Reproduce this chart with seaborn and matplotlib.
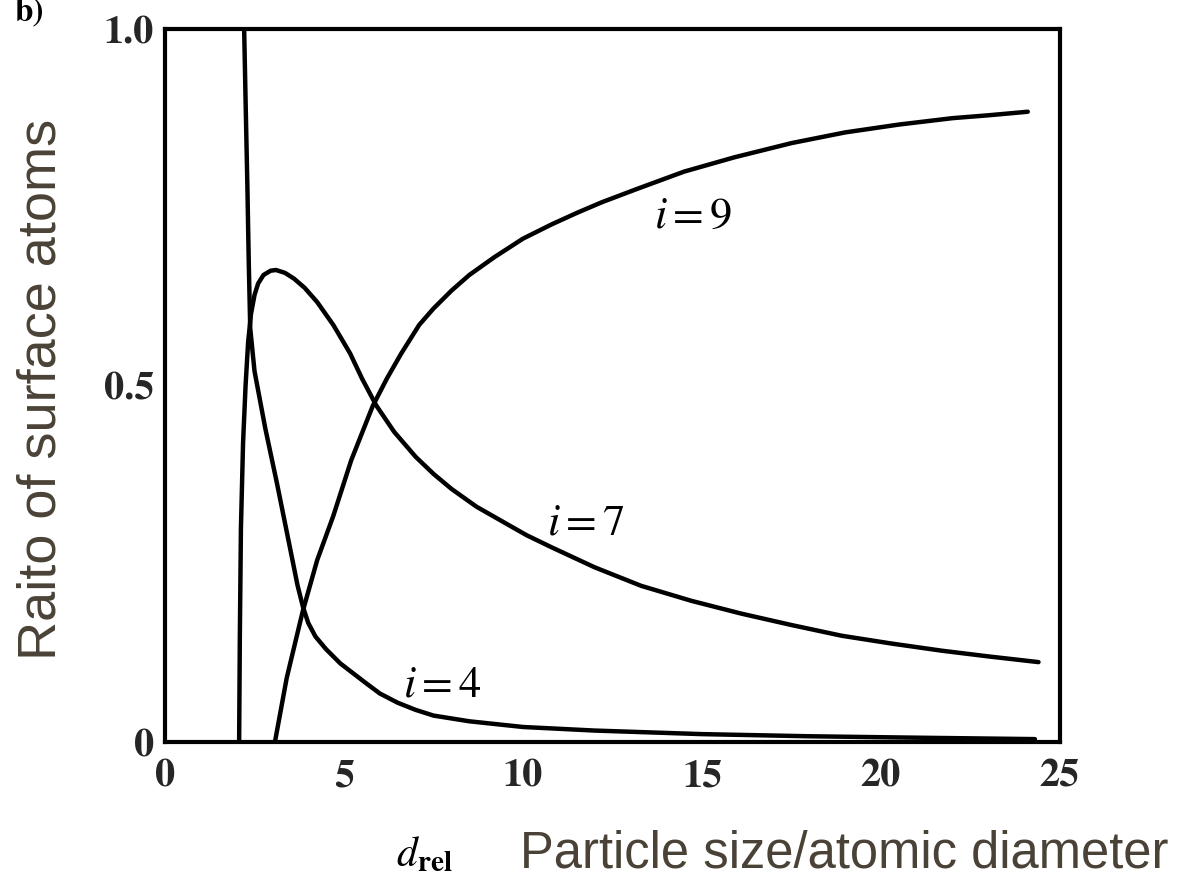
import matplotlib
matplotlib.use("Agg")
import matplotlib.pyplot as plt
import seaborn as sns
import pandas as pd

# Data
d_i4 = [2.21, 2.25, 2.30, 2.34, 2.38, 2.5, 2.8, 3.13, 3.5, 3.7, 3.85, 4.0, 4.2, 4.5, 4.9,
        5.6, 6.0, 6.5, 7.0, 7.5, 8.5, 10.0, 12.0, 15.0, 18.0, 21.0, 24.3]
y_i4 = [1.0, 0.90, 0.78, 0.67, 0.58, 0.52, 0.44, 0.362, 0.27, 0.22, 0.19, 0.167, 0.148, 0.13, 0.11,
        0.083, 0.068, 0.055, 0.045, 0.037, 0.029, 0.021, 0.016, 0.011, 0.008, 0.006, 0.004]

d_i7 = [2.07, 2.09, 2.12, 2.18, 2.25, 2.32, 2.40, 2.5, 2.6, 2.75, 2.95, 3.1, 3.35, 3.6, 3.9,
        4.25, 4.7, 5.17, 5.5, 5.9, 6.4, 7.0, 7.5, 8.0, 8.7, 9.4, 10.1, 10.8, 12.0, 13.3,
        14.7, 16.1, 17.5, 18.9, 20.3, 21.7, 23.0, 24.4]
y_i7 = [0.0, 0.15, 0.30, 0.42, 0.50, 0.56, 0.60, 0.627, 0.643, 0.655, 0.661, 0.662, 0.658, 0.650, 0.637,
        0.617, 0.585, 0.545, 0.51, 0.472, 0.435, 0.400, 0.376, 0.355, 0.330, 0.31, 0.29, 0.273, 0.245, 0.219,
        0.198, 0.180, 0.164, 0.149, 0.138, 0.128, 0.120, 0.112]

d_i9 = [3.07, 3.4, 3.85, 4.25, 4.7, 5.2, 5.8, 6.2, 6.6, 7.1, 7.5, 8.0, 8.5, 9.2, 10.0, 10.8,
        11.5, 12.2, 13.2, 14.5, 15.9, 17.5, 19.0, 20.5, 22.0, 23.0, 24.1]
y_i9 = [0.0, 0.09, 0.184, 0.255, 0.317, 0.395, 0.471, 0.51, 0.545, 0.585, 0.608, 0.633, 0.655, 0.68, 0.706, 0.726,
        0.742, 0.757, 0.776, 0.800, 0.820, 0.840, 0.855, 0.866, 0.875, 0.879, 0.884]

x_ticks = [0, 5, 10, 15, 20, 25]
y_ticks = [0.0, 0.1, 0.2, 0.3, 0.4, 0.5, 0.6, 0.7, 0.8, 0.9, 1.0]
y_ticklabels = ["0", "", "", "", "", "0.5", "", "", "", "", "1.0"]

labels = [("i4", "4", 7.75, 0.083), ("i7", "7", 11.75, 0.31), ("i9", "9", 14.75, 0.74)]

sns.set_style("white")
plt.rcParams["mathtext.fontset"] = "stix"

df = pd.concat([
    pd.DataFrame({"d": d_i4, "r": y_i4, "s": "i4"}),
    pd.DataFrame({"d": d_i7, "r": y_i7, "s": "i7"}),
    pd.DataFrame({"d": d_i9, "r": y_i9, "s": "i9"}),
])

fig = plt.figure(figsize=(11.89, 8.78), dpi=100)
ax = fig.add_axes([0.1388, 0.1538, 0.7527, 0.812])

for s in ["i4", "i7", "i9"]:
    sub = df[df["s"] == s]
    sns.lineplot(data=sub, x="d", y="r", sort=False, estimator=None,
                 color="black", linewidth=3.2, ax=ax, legend=False)

ax.set_xlim(0, 25)
ax.set_ylim(0, 1.0)
ax.set_xticks(x_ticks)
ax.set_xticklabels([str(t) for t in x_ticks])
ax.set_yticks(y_ticks)
ax.set_yticklabels(y_ticklabels)
ax.tick_params(axis="both", direction="in", length=18, width=2, color="black",
               labelsize=29)
ax.tick_params(axis="x", pad=12)
ax.tick_params(axis="y", pad=8)
for lab in ax.get_xticklabels() + ax.get_yticklabels():
    lab.set_fontfamily("STIXGeneral")
    lab.set_fontweight("bold")
for sp in ax.spines.values():
    sp.set_visible(True)
    sp.set_linewidth(3)
    sp.set_color("black")

for key, num, xd, yd in labels:
    ax.text(xd, yd, r"$i = " + num + "$", fontsize=32,
            ha="center", va="center", color="black")

ax.set_xlabel("")
ax.set_ylabel("")

txt_color = "#4a4236"
fig.text(0.035, 0.556, "Raito of surface atoms", rotation=90, fontsize=39,
         fontfamily="Liberation Sans", color=txt_color, ha="center", va="center")
fig.text(0.437, 0.027, "Particle size/atomic diameter", fontsize=36.5,
         fontfamily="Liberation Sans", color=txt_color, ha="left", va="center")
fig.text(0.357, 0.027, r"$\mathbf{\mathit{d}}_{\mathbf{rel}}$", fontsize=30,
         color="black", ha="center", va="center")
fig.text(0.012, 0.985, "b)", fontsize=24, fontfamily="STIXGeneral", fontweight="bold",
         color="black", ha="left", va="center")

fig.savefig("out.png", dpi=100)
